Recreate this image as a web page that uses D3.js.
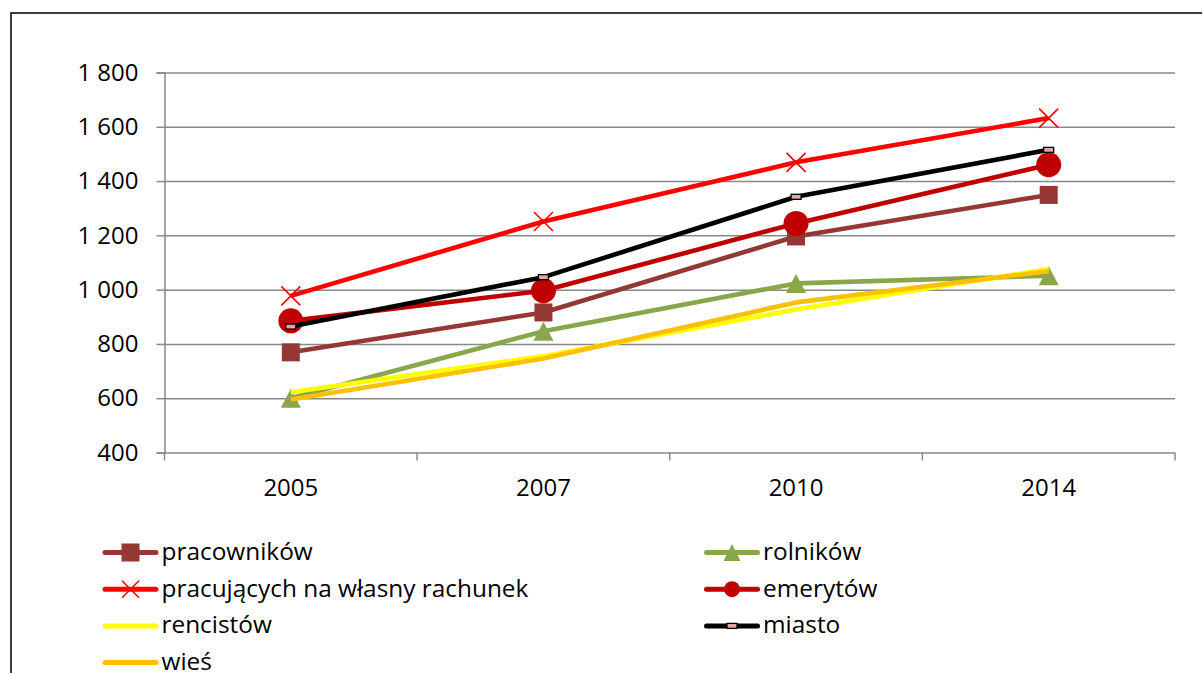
<!DOCTYPE html>
<html><head><meta charset="utf-8">
<script src="https://cdn.jsdelivr.net/npm/d3@7"></script>
<style>html,body{margin:0;padding:0;background:#fff;overflow:hidden}</style>
</head><body>
<svg id="chart" width="1202" height="673"></svg>
<script>
// ---- data ----
const years = ["2005", "2007", "2010", "2014"];
const pracownikow = [769, 916, 1196, 1349];
const rolnikow = [600, 847, 1023, 1051];
const pracujacych = [977, 1251, 1469, 1632];
const emerytow = [885, 996, 1244, 1460];
const rencistow = [622, 755, 927, 1076];
const miasto = [864, 1046, 1342, 1515];
const wies = [595, 746, 953, 1068];
const yTicks = [400, 600, 800, 1000, 1200, 1400, 1600, 1800];
const seriesNames = ["pracowników", "rolników", "pracujących na własny rachunek", "emerytów", "rencistów", "miasto", "wieś"];
const seriesValues = [pracownikow, rolnikow, pracujacych, emerytow, rencistow, miasto, wies];

// ---- styles ----
const seriesColors = ["#953735", "#8AA64B", "#FF0000", "#C00000", "#FFFF00", "#000000", "#FFC000"];
const seriesMarkers = ["square", "triangle", "x", "circle", "none", "dash", "none"];

const svg = d3.select("#chart");
svg.append("rect").attr("x", 0).attr("y", 0).attr("width", 1202).attr("height", 673).attr("fill", "#fff");
svg.append("rect").attr("x", 11).attr("y", 13).attr("width", 1230).attr("height", 700)
  .attr("fill", "none").attr("stroke", "#000").attr("stroke-width", 1.5);

const plot = {left: 164.5, right: 1175, top: 72.5, bottom: 452.5};
const x = d3.scaleBand().domain(years).range([plot.left, plot.right]).padding(0);
const y = d3.scaleLinear().domain([400, 1800]).range([plot.bottom, plot.top]);
const fmt = d3.formatLocale({decimal: ",", thousands: "\u00a0", grouping: [3], currency: ["", ""]}).format(",d");
const font = "'Open Sans', sans-serif";
const gridColor = "#888888";

// gridlines + y axis
const yAxis = d3.axisLeft(y).tickValues(yTicks).tickFormat(fmt).tickSize(8).tickPadding(18);
const gy = svg.append("g").attr("transform", `translate(${plot.left},0)`).call(yAxis);
gy.select(".domain").attr("stroke", gridColor).attr("stroke-width", 1.5);
gy.selectAll(".tick line").attr("stroke", gridColor).attr("stroke-width", 1.5);
gy.selectAll(".tick text").attr("font-family", font).attr("font-size", 24).attr("fill", "#000");
gy.selectAll(".tick").append("line").attr("x1", 0).attr("x2", plot.right - plot.left)
  .attr("stroke", gridColor).attr("stroke-width", 1.5);

// x axis
const xAxis = d3.axisBottom(x).tickSize(0).tickPadding(26);
const gx = svg.append("g").attr("transform", `translate(0,${plot.bottom})`).call(xAxis);
gx.select(".domain").remove();
gx.selectAll(".tick text").attr("font-family", font).attr("font-size", 24).attr("fill", "#000");
const bounds = years.map(d => x(d)).concat([plot.right]);
gx.selectAll(".bound").data(bounds).enter().append("line")
  .attr("x1", d => d).attr("x2", d => d).attr("y1", 0).attr("y2", 8)
  .attr("stroke", gridColor).attr("stroke-width", 1.5);

const cx = d => x(d) + x.bandwidth() / 2;

function drawMarker(g, type, color, px, py, legend) {
  if (type === "square") {
    const s = 18;
    g.append("rect").attr("x", px - s / 2).attr("y", py - s / 2).attr("width", s).attr("height", s).attr("fill", color);
  } else if (type === "triangle") {
    const w = legend ? 17 : 20, h = legend ? 17 : 19;
    g.append("path").attr("d", `M${px},${py - h / 2}L${px + w / 2},${py + h / 2}L${px - w / 2},${py + h / 2}Z`).attr("fill", color);
  } else if (type === "x") {
    const s = legend ? 8.5 : 9.5;
    g.append("path").attr("d", `M${px - s},${py - s}L${px + s},${py + s}M${px - s},${py + s}L${px + s},${py - s}`)
      .attr("stroke", color).attr("stroke-width", 1.6).attr("fill", "none");
  } else if (type === "circle") {
    g.append("circle").attr("cx", px).attr("cy", py).attr("r", legend ? 8 : 12.5).attr("fill", color);
  } else if (type === "dash") {
    g.append("rect").attr("x", px - 5).attr("y", py - 2.5).attr("width", 10).attr("height", 5)
      .attr("fill", "#E8A4A4").attr("stroke", "#000").attr("stroke-width", 1.3);
  }
}

// series
const line = d3.line().x(d => cx(d.year)).y(d => y(d.value));
seriesNames.forEach((name, i) => {
  const data = years.map((yr, j) => ({year: yr, value: seriesValues[i][j]}));
  const g = svg.append("g");
  g.append("path").datum(data).attr("d", line).attr("fill", "none")
    .attr("stroke", seriesColors[i]).attr("stroke-width", 4.6).attr("stroke-linejoin", "round");
  data.forEach(d => drawMarker(g, seriesMarkers[i], seriesColors[i], cx(d.year), y(d.value), false));
});

// legend
const legCols = [102.5, 704];
const legRow0 = 552.5, legStep = 36.7, legLen = 56;
seriesNames.forEach((name, i) => {
  const col = i % 2, row = Math.floor(i / 2);
  const lx = legCols[col], ly = legRow0 + row * legStep;
  const g = svg.append("g");
  g.append("line").attr("x1", lx + 2.5).attr("x2", lx + legLen - 2.5).attr("y1", ly).attr("y2", ly)
    .attr("stroke", seriesColors[i]).attr("stroke-width", 5).attr("stroke-linecap", "round");
  drawMarker(g, seriesMarkers[i], seriesColors[i], lx + legLen / 2, ly, true);
  g.append("text").attr("x", lx + legLen + 3).attr("y", ly + 7.5)
    .attr("font-family", font).attr("font-size", 24.4).attr("fill", "#000").text(name);
});
</script>
</body></html>
